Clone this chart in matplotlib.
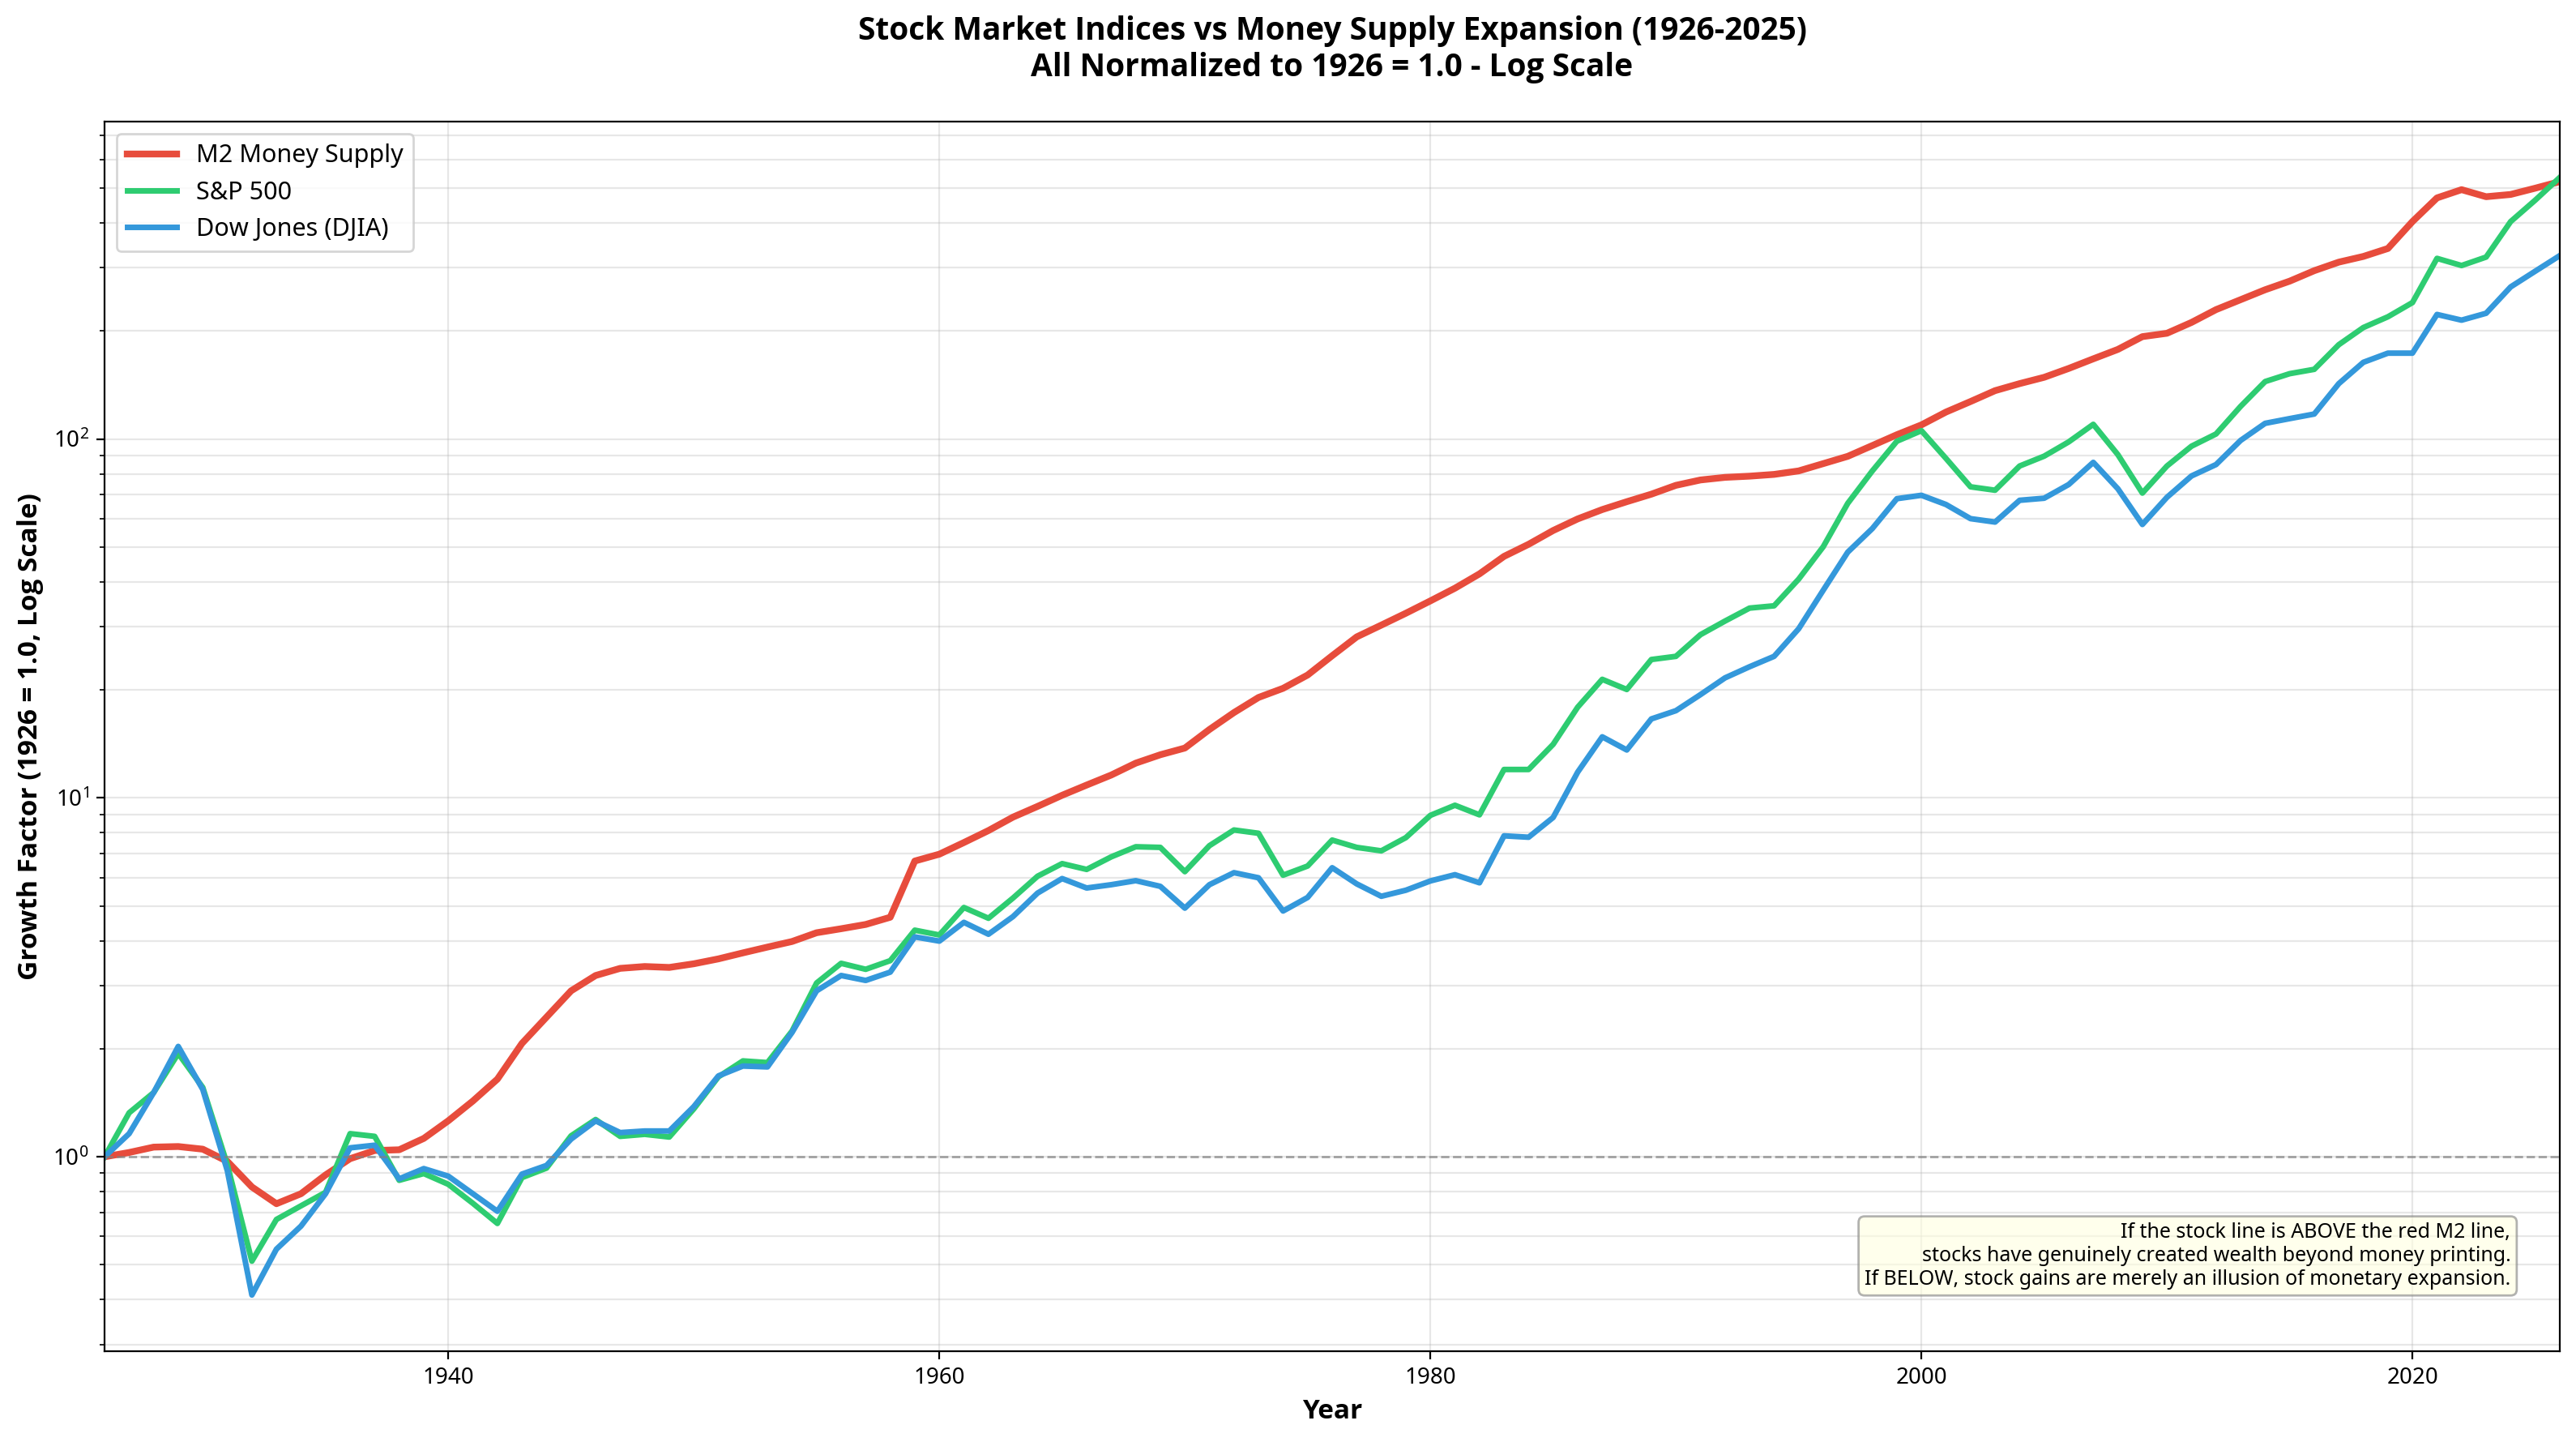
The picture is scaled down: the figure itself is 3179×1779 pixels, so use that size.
import matplotlib
matplotlib.use("Agg")
import matplotlib.pyplot as plt
import numpy as np

plt.rcParams['font.family'] = ['Noto Sans', 'DejaVu Sans']
BOLD_FONT = ['Open Sans', 'Noto Sans', 'DejaVu Sans']

# values, growth factor vs 1926
years = list(range(1926, 2027))

m2_supply = [
    1.00, 1.028, 1.064, 1.068, 1.05, 0.971, 0.824, 0.740, 0.789, 0.890,      # 1926-1935
    0.988, 1.041, 1.046, 1.125, 1.26, 1.43, 1.646, 2.07, 2.45, 2.90,         # 1936-1945
    3.20, 3.35, 3.39, 3.37, 3.45, 3.56, 3.70, 3.84, 3.98, 4.21,              # 1946-1955
    4.32, 4.44, 4.65, 6.67, 6.97, 7.51, 8.11, 8.84, 9.47, 10.17,             # 1956-1965
    10.86, 11.58, 12.50, 13.19, 13.77, 15.51, 17.29, 19.05, 20.2, 22.0,      # 1966-1975
    24.9, 28.1, 30.3, 32.7, 35.4, 38.4, 42.1, 47.1, 50.9, 55.6,              # 1976-1985
    59.9, 63.6, 66.9, 70.2, 74.3, 76.9, 78.2, 78.8, 79.7, 81.5,              # 1986-1995
    85.4, 89.5, 95.9, 102.8, 109.5, 118.9, 127.2, 136.4, 142.7, 148.6,       # 1996-2005
    157.3, 167.3, 177.7, 192.9, 197.1, 211.3, 229.4, 244.5, 260.6, 275.4,    # 2006-2015
    294.5, 311.1, 322.7, 339.6, 403.6, 469.8, 495.3, 473.4, 480.3, 500.0,    # 2016-2025
    521.5,                                                                   # 2026
]

sp500 = [
    1.00, 1.326, 1.51, 1.94, 1.56, 0.95, 0.512, 0.669, 0.730, 0.796,
    1.160, 1.14, 0.860, 0.898, 0.838, 0.742, 0.652, 0.875, 0.93, 1.144,
    1.27, 1.14, 1.155, 1.135, 1.36, 1.67, 1.85, 1.83, 2.24, 3.05,
    3.46, 3.33, 3.52, 4.28, 4.15, 4.95, 4.62, 5.26, 6.05, 6.56,
    6.32, 6.85, 7.31, 7.28, 6.23, 7.36, 8.14, 7.97, 6.09, 6.46,
    7.63, 7.28, 7.12, 7.75, 8.94, 9.54, 8.97, 12.0, 12.0, 14.1,
    17.9, 21.4, 20.05, 24.3, 24.8, 28.5, 31.1, 33.8, 34.3, 40.7,
    50.1, 66.2, 81.5, 98.6, 105.5, 88.3, 73.6, 72.0, 84.1, 89.6,
    98.2, 109.9, 90.5, 70.7, 84.1, 95.5, 103.3, 123.3, 144.6, 152.1,
    156.4, 183.2, 204.5, 219.1, 240.0, 318.7, 304.4, 321.4, 403.6, 463.0,
    535.7,
]

djia = [
    1.00, 1.16, 1.51, 2.03, 1.54, 0.914, 0.412, 0.553, 0.641, 0.789,
    1.059, 1.077, 0.868, 0.927, 0.883, 0.789, 0.705, 0.895, 0.946, 1.12,
    1.259, 1.168, 1.18, 1.18, 1.38, 1.68, 1.79, 1.78, 2.22, 2.90,
    3.20, 3.10, 3.27, 4.10, 3.99, 4.50, 4.17, 4.67, 5.43, 5.96,
    5.61, 5.73, 5.88, 5.67, 4.93, 5.73, 6.19, 5.99, 4.84, 5.28,
    6.39, 5.76, 5.32, 5.53, 5.87, 6.11, 5.80, 7.84, 7.77, 8.82,
    11.8, 14.8, 13.6, 16.6, 17.5, 19.4, 21.6, 23.2, 24.8, 29.6,
    37.9, 48.4, 56.3, 68.2, 69.7, 65.7, 60.0, 58.7, 67.5, 68.4,
    74.7, 86.1, 72.7, 57.8, 68.8, 78.9, 84.9, 99.1, 110.6, 114.0,
    117.4, 142.7, 163.6, 173.5, 173.5, 222.4, 214.4, 224.1, 265.4, 293.5,
    324.4,
]

note = ("If the stock line is ABOVE the red M2 line,\n"
        "stocks have genuinely created wealth beyond money printing.\n"
        "If BELOW, stock gains are merely an illusion of monetary expansion.")

fig, ax = plt.subplots(figsize=(15.895, 8.895), dpi=200)
fig.subplots_adjust(left=0.0406, right=0.9937, top=0.9157, bottom=0.0632)

ax.plot(years, m2_supply, color='#e74c3c', linewidth=3, label='M2 Money Supply')
ax.plot(years, sp500, color='#2ecc71', linewidth=2.5, label='S&P 500')
ax.plot(years, djia, color='#3498db', linewidth=2.5, label='Dow Jones (DJIA)')
ax.axhline(y=1.0, color='gray', linestyle='--', linewidth=1, alpha=0.7)

ax.set_yscale('log')
ax.set_xlim(1926, 2026)

ax.set_title('Stock Market Indices vs Money Supply Expansion (1926-2025)\n'
             'All Normalized to 1926 = 1.0 - Log Scale',
             fontsize=14, fontweight='bold', family=BOLD_FONT, pad=20)
ax.set_xlabel('Year', fontsize=12, fontweight='bold', family=BOLD_FONT)
ax.set_ylabel('Growth Factor (1926 = 1.0, Log Scale)', fontsize=12,
              fontweight='bold', family=BOLD_FONT)
ax.grid(True, which='both', alpha=0.3)
ax.legend(loc='upper left', fontsize=11)

ax.text(0.98, 0.05, note, transform=ax.transAxes, fontsize=9,
        ha='right', va='bottom',
        bbox=dict(boxstyle='round', facecolor='lightyellow', edgecolor='gray', alpha=0.6))

fig.savefig('out.png', dpi=200)
